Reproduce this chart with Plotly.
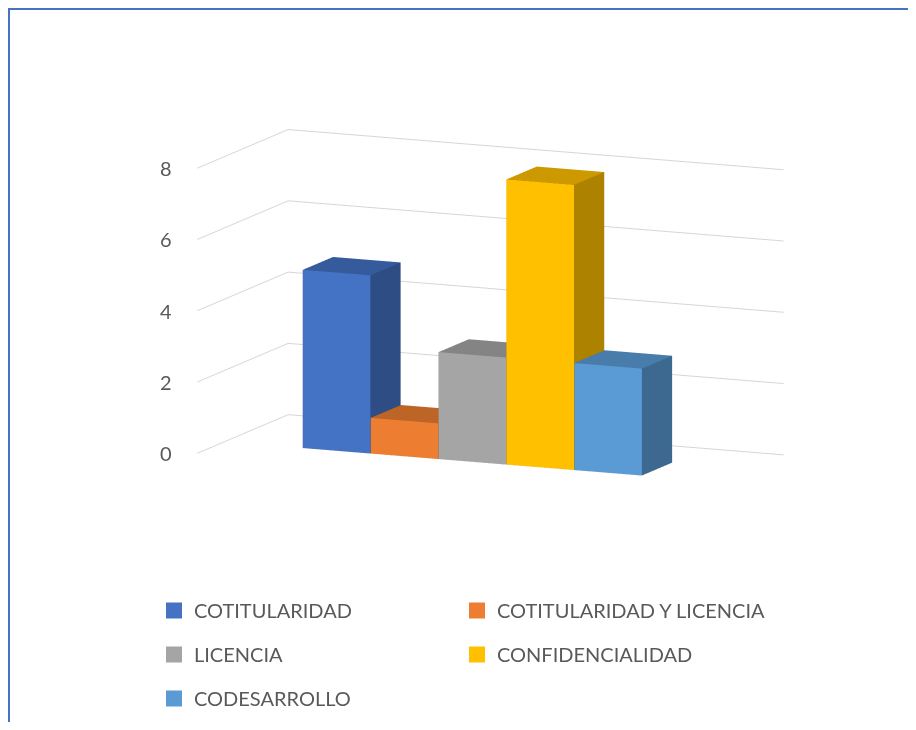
import plotly.graph_objects as go

# ---- data ----
series_names = ["COTITULARIDAD", "COTITULARIDAD Y LICENCIA", "LICENCIA",
                "CONFIDENCIALIDAD", "CODESARROLLO"]
series_values = [5, 1, 3, 8, 3]
series_colors = ["#4472C4", "#ED7D31", "#A5A5A5", "#FFC000", "#5B9BD5"]
z_ticks = [0, 2, 4, 6, 8]

# ---- style / layout constants ----
W, H = 900, 714
BAR_W = 0.995
BAR_Y0, BAR_Y1 = 0.9, 1.9
X_RANGE = [-1.65, 5.65]
Y_RANGE = [0, 3]
Z_RANGE = [0, 8]
TEXT = "#595959"
FONT = "Lato"


def shade(hex_color, f):
    h = hex_color.lstrip("#")
    r, g, b = (int(h[i:i + 2], 16) for i in (0, 2, 4))
    return "#%02X%02X%02X" % (int(r * f), int(g * f), int(b * f))


fig = go.Figure()

for i, (name, val, col) in enumerate(zip(series_names, series_values, series_colors)):
    x0, x1 = i - BAR_W / 2, i + BAR_W / 2
    y0, y1 = BAR_Y0, BAR_Y1
    xs = [x0, x1, x1, x0, x0, x1, x1, x0]
    ys = [y0, y0, y1, y1, y0, y0, y1, y1]
    zs = [0, 0, 0, 0, val, val, val, val]
    I = [0, 0, 3, 3, 0, 0, 1, 1, 0, 0, 4, 4]
    J = [1, 5, 2, 6, 3, 7, 2, 6, 1, 2, 5, 6]
    K = [5, 4, 6, 7, 7, 4, 6, 5, 2, 3, 6, 7]
    front, top, side = col, shade(col, 0.80), shade(col, 0.68)
    fc = [front, front, side, side, side, side, side, side, side, side, top, top]
    fig.add_trace(go.Mesh3d(
        x=xs, y=ys, z=zs, i=I, j=J, k=K, facecolor=fc, flatshading=True,
        lighting=dict(ambient=1.0, diffuse=0.0, specular=0.0, roughness=1.0, fresnel=0.0),
        hoverinfo="skip", showlegend=False, name=name))

# legend entries (two columns)
for i, (name, col) in enumerate(zip(series_names, series_colors)):
    fig.add_trace(go.Scatter(
        x=[None], y=[None], mode="markers", name=name,
        marker=dict(symbol="square", size=16, color=col),
        legendgroup=name, legend="legend" if i % 2 == 0 else "legend2"))

axis_off = dict(showgrid=False, showticklabels=False, showline=False, zeroline=False,
                showbackground=False, showspikes=False, ticks="", title=dict(text=""))

legend_common = dict(font=dict(family=FONT, size=20, color=TEXT), bgcolor="rgba(0,0,0,0)",
                     orientation="v", tracegroupgap=15, xanchor="left", yanchor="top",
                     itemclick=False, itemdoubleclick=False)

# tick labels drawn as flat text at the front-left edge of the 3D box
tick_annotations = [dict(x=X_RANGE[0], y=Y_RANGE[0], z=t, text=str(t), showarrow=False,
                         xanchor="right", yanchor="middle", xshift=-23,
                         font=dict(family=FONT, size=20, color=TEXT)) for t in z_ticks]

# view direction (azimuth ~23.6 deg, elevation ~10.7 deg)
DIR = (0.3933, -0.9005, 0.1857)
DIST = 3.0

fig.update_layout(
    width=W, height=H, margin=dict(l=0, r=0, t=0, b=0),
    paper_bgcolor="white", plot_bgcolor="white",
    font=dict(family=FONT, color=TEXT),
    xaxis=dict(visible=False), yaxis=dict(visible=False),
    scene=dict(
        domain=dict(x=[0.0778, 0.9945], y=[0.1611, 0.9888]),
        xaxis=dict(range=X_RANGE, **axis_off),
        yaxis=dict(range=Y_RANGE, **axis_off),
        zaxis=dict(range=Z_RANGE, tickvals=z_ticks, showgrid=True, gridcolor="#D6D6D6",
                   gridwidth=2, showticklabels=False, showline=False, zeroline=False,
                   showbackground=False, showspikes=False, ticks="", title=dict(text="")),
        aspectmode="manual", aspectratio=dict(x=1.83, y=0.768, z=0.982),
        camera=dict(eye=dict(x=DIR[0] * DIST, y=DIR[1] * DIST, z=DIR[2] * DIST),
                    center=dict(x=0, y=0, z=0), up=dict(x=0, y=0, z=1),
                    projection=dict(type="orthographic")),
        annotations=tick_annotations,
    ),
    legend=dict(x=146 / W, y=1 - 583 / H, **legend_common),
    legend2=dict(x=449 / W, y=1 - 583 / H, **legend_common),
    shapes=[
        dict(type="line", xref="paper", yref="paper", x0=0, x1=1, y0=1 - 1 / H,
             y1=1 - 1 / H, line=dict(color="#4472C4", width=2)),
        dict(type="line", xref="paper", yref="paper", x0=1 / W, x1=1 / W, y0=0,
             y1=1, line=dict(color="#4472C4", width=2)),
    ],
)

fig.write_html("out.html")
